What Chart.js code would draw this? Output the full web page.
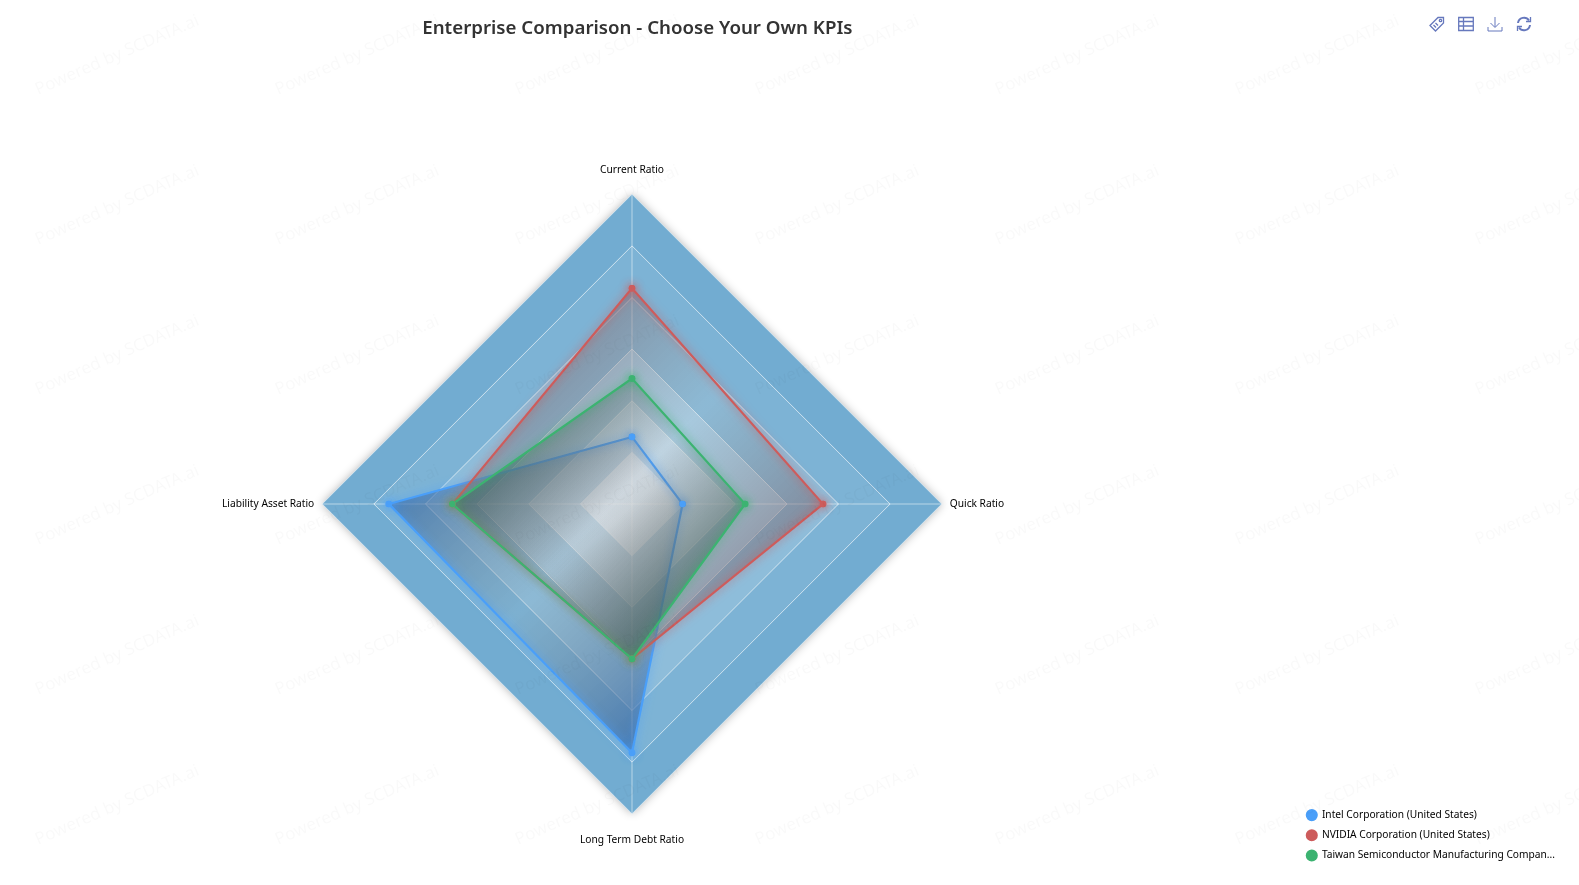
<!DOCTYPE html>
<html>
<head>
<meta charset="utf-8">
<title>Enterprise Comparison</title>
<script src="https://cdn.jsdelivr.net/npm/chart.js@4/dist/chart.umd.min.js"></script>
<style>
    html, body { margin: 0; padding: 0; background: #fff; }
    #wrap { position: relative; width: 1579px; height: 885px; overflow: hidden; }
    #toolbox { position: absolute; top: 16px; left: 1429px; }
    #toolbox svg { position: absolute; top: 0; width: 16px; height: 16px; fill: none; stroke: #6678bd; stroke-width: 1.3; }
</style>
</head>
<body>
<div id="wrap">
    <canvas id="grafico" width="1579" height="885"></canvas>
    <div id="toolbox">
        <svg style="left:0" viewBox="0 0 16 16"><path d="M1 9.5 9 1.5h5.5V7l-8 8z"/><circle cx="11.5" cy="4.5" r="1.2"/><path d="M4.5 9 7 11.5M6.5 7 9 9.5"/></svg>
        <svg style="left:29px" viewBox="0 0 16 16"><path d="M.7 1.5h14.6v13H.7zM.7 5.5h14.6M.7 10h14.6M5.5 1.5v13"/></svg>
        <svg style="left:58px" viewBox="0 0 16 16"><path d="M8 1v10M3.5 7 8 11.5 12.500 7M1 11v4h14v-4" stroke-width="1"/></svg>
        <svg style="left:87px" viewBox="0 0 16 16"><path d="M2 7a6 6 0 0 1 11-2.5M14 9a6 6 0 0 1-11 2.5" stroke-width="2"/><path d="M14.5 1v4.5H10M1.500 15v-4.500H6" stroke-width="1.300"/></svg>
    </div>
</div>
<script>
const categorias = ['Current Ratio', 'Quick Ratio', 'Long Term Debt Ratio', 'Liability Asset Ratio'];
const intel = [1.3, 0.98, 4.82, 4.71];
const nvidia = [4.18, 3.7, 3.0, 3.48];
const tsmc = [2.43, 2.19, 3.0, 3.48];
const nomes = ['Intel Corporation (United States)', 'NVIDIA Corporation (United States)', 'Taiwan Semiconductor Manufacturing Compan...'];
const alfasAnel = [0.2, 0.4, 0.6, 0.8, 0.92, 1];
const marcaDagua = 'Powered by SCDATA.ai';

function tracarPoligono(ctx, r, valor) {
    categorias.forEach((c, k) => {
        const p = r.getPointPositionForValue(k, valor);
        if (k === 0) ctx.moveTo(p.x, p.y);
        else ctx.lineTo(p.x, p.y);
    });
    ctx.closePath();
}

// aneis preenchidos do radar, desenhados antes da grade
const aneis = {
    id: 'aneis',
    beforeDraw(chart) {
        const r = chart.scales.r;
        const ctx = chart.ctx;
        // halo so do lado de fora do poligono
        ctx.save();
        ctx.beginPath();
        ctx.rect(0, 0, chart.width, chart.height);
        tracarPoligono(ctx, r, alfasAnel.length);
        ctx.clip('evenodd');
        ctx.beginPath();
        tracarPoligono(ctx, r, alfasAnel.length);
        ctx.shadowColor = 'rgba(0,0,0,0.3)';
        ctx.shadowBlur = 10;
        ctx.fillStyle = 'rgb(114,172,209)';
        ctx.fill();
        ctx.restore();
        alfasAnel.forEach((alfa, i) => {
            ctx.beginPath();
            tracarPoligono(ctx, r, i + 1);
            tracarPoligono(ctx, r, i);
            ctx.fillStyle = `rgba(114,172,209,${alfa})`;
            ctx.fill('evenodd');
        });
    }
};

// brilho das linhas de cada serie, pontos por cima de tudo
const brilho = {
    id: 'brilho',
    beforeDatasetDraw(chart, args) {
        chart.ctx.save();
        chart.ctx.shadowColor = args.meta.dataset.options.borderColor;
        chart.ctx.shadowBlur = 10;
    },
    afterDatasetDraw(chart) {
        chart.ctx.restore();
    },
    afterDatasetsDraw(chart) {
        chart.getSortedVisibleDatasetMetas().reverse().forEach(meta => {
            meta.data.forEach(ponto => ponto.draw(chart.ctx));
        });
    }
};

const aguaPlugin = {
    id: 'marcaDagua',
    afterDraw(chart) {
        const ctx = chart.ctx;
        ctx.save();
        ctx.font = '17px "Noto Sans"';
        ctx.fillStyle = 'rgba(0,0,0,0.025)';
        for (let lin = 0; lin < 6; lin++) {
            for (let col = 0; col < 7; col++) {
                ctx.save();
                ctx.translate(38 + col * 240, 95 + lin * 150);
                ctx.rotate(-23.5 * Math.PI / 180);
                ctx.fillText(marcaDagua, 0, 0);
                ctx.restore();
            }
        }
        ctx.restore();
    }
};

// legenda encostada no canto inferior direito, titulo um pouco deslocado
const ajustes = {
    id: 'ajustes',
    afterLayout(chart) {
        chart.legend.top = 800;
        chart.legend.bottom = 885;
        chart.legend.left += 32;
        chart.legend.right += 32;
        chart.titleBlock.left += 5;
        chart.titleBlock.right += 5;
    }
};

function gradiente(dados, cor, alfa) {
    return ctx => {
        const r = ctx.chart.scales.r;
        if (!r || !ctx.chart.chartArea) return `rgb(${cor})`;
        const pts = dados.map((v, k) => r.getPointPositionForValue(k, v));
        const xs = pts.map(p => p.x);
        const ys = pts.map(p => p.y);
        const g = ctx.chart.ctx.createLinearGradient(Math.min(...xs), Math.min(...ys), Math.max(...xs), Math.max(...ys));
        g.addColorStop(0, `rgba(${cor},${alfa})`);
        g.addColorStop(0.5, 'rgba(120,120,120,0.05)');
        g.addColorStop(1, `rgba(${cor},${alfa})`);
        return g;
    };
}

function serie(nome, dados, cor, fundo, alfa, ordem) {
    return {
        label: nome,
        data: dados,
        borderColor: cor,
        backgroundColor: gradiente(dados, fundo, alfa),
        pointBackgroundColor: cor,
        pointBorderColor: cor,
        pointRadius: 2.2,
        borderWidth: 2.2,
        fill: true,
        order: ordem
    };
}

new Chart(document.getElementById('grafico').getContext('2d'), {
    type: 'radar',
    data: {
        labels: categorias,
        datasets: [
            serie(nomes[0], intel, '#4a9ff9', '30,90,170', 0.8, 3),
            serie(nomes[1], nvidia, '#cd5c5c', '116,69,82', 0.8, 2),
            serie(nomes[2], tsmc, '#3cb371', '15,85,65', 0.95, 1)
        ]
    },
    options: {
        responsive: false,
        animation: false,
        layout: { padding: { left: 0, top: 0, bottom: 38, right: 46 } },
        plugins: {
            title: {
                display: true,
                text: 'Enterprise Comparison - Choose Your Own KPIs',
                fullSize: false,
                color: '#333333',
                font: { family: '"Noto Sans"', size: 18.7, weight: '600' },
                padding: { top: 17, bottom: 125 }
            },
            legend: {
                position: 'right',
                align: 'start',
                labels: {
                    usePointStyle: true,
                    pointStyle: 'circle',
                    boxWidth: 10,
                    boxHeight: 7,
                    padding: 10,
                    color: '#000000',
                    font: { family: '"Noto Sans"', size: 10.2 },
                    sort: (a, b) => a.datasetIndex - b.datasetIndex,
                    generateLabels(chart) {
                        const itens = Chart.defaults.plugins.legend.labels.generateLabels(chart);
                        itens.forEach(item => { item.fillStyle = item.strokeStyle; });
                        return itens;
                    }
                }
            },
            tooltip: { enabled: false }
        },
        scales: {
            r: {
                min: 0,
                max: 6,
                ticks: { display: false, stepSize: 1 },
                grid: { color: 'rgba(255,255,255,0.5)' },
                angleLines: { color: 'rgba(255,255,255,0.5)' },
                pointLabels: {
                    color: '#000000',
                    font: { family: '"Noto Sans"', size: 10.2 },
                    padding: ctx => [18, 8, 20, 8][ctx.index]
                }
            }
        }
    },
    plugins: [aneis, brilho, aguaPlugin, ajustes]
});
</script>
</body>
</html>
